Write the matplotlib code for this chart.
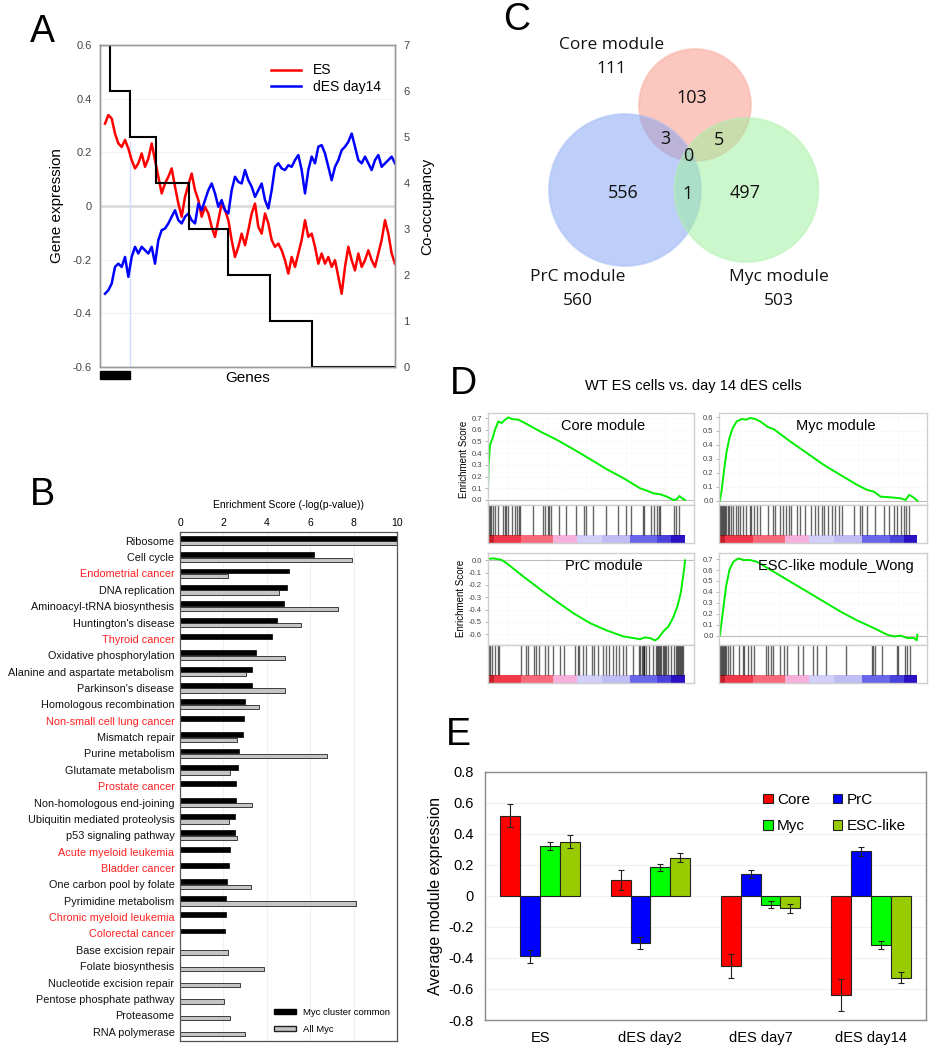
import numpy as np
import matplotlib
matplotlib.use("Agg")
import matplotlib.pyplot as plt
from matplotlib.patches import Circle, Rectangle, Patch
from matplotlib.transforms import blended_transform_factory

plt.rcParams['font.family'] = ['Liberation Sans', 'DejaVu Sans']

W, H = 931, 1050

# ---------------- panel A data ----------------
es_expr = [0.307, 0.339, 0.326, 0.27, 0.233, 0.22, 0.246, 0.214, 0.171, 0.14,
           0.159, 0.196, 0.146, 0.177, 0.233, 0.171, 0.109, 0.047, 0.084, 0.109,
           0.14, 0.072, 0.009, -0.04, 0.034, 0.078, 0.121, 0.059, 0.022, -0.04,
           -0.003, -0.028, -0.078, -0.115, -0.053, 0.009, -0.016, -0.053, -0.127, -0.19,
           -0.152, -0.103, -0.146, -0.09, -0.028, 0.009, -0.078, -0.103, -0.028, -0.065,
           -0.127, -0.152, -0.14, -0.165, -0.202, -0.252, -0.19, -0.227, -0.177, -0.127,
           -0.053, -0.115, -0.103, -0.152, -0.215, -0.177, -0.215, -0.19, -0.227, -0.202,
           -0.264, -0.327, -0.227, -0.152, -0.202, -0.24, -0.177, -0.227, -0.202, -0.165,
           -0.202, -0.227, -0.177, -0.127, -0.053, -0.103, -0.177, -0.215]
des14_expr = [-0.327, -0.314, -0.289, -0.227, -0.215, -0.227, -0.19, -0.264, -0.19, -0.152,
              -0.177, -0.152, -0.165, -0.177, -0.152, -0.215, -0.127, -0.09, -0.084, -0.065,
              -0.04, -0.016, -0.053, -0.065, -0.04, -0.028, -0.053, -0.065, 0.009, -0.016,
              0.022, 0.059, 0.084, 0.047, -0.003, 0.022, -0.016, -0.028, 0.059, 0.109,
              0.09, 0.084, 0.134, 0.096, 0.072, 0.034, 0.059, 0.084, 0.022, -0.009,
              0.059, 0.146, 0.159, 0.14, 0.134, 0.152, 0.146, 0.171, 0.19, 0.134,
              0.047, 0.134, 0.184, 0.159, 0.221, 0.227, 0.196, 0.146, 0.096, 0.146,
              0.171, 0.208, 0.221, 0.239, 0.27, 0.221, 0.171, 0.159, 0.184, 0.159,
              0.134, 0.171, 0.19, 0.146, 0.159, 0.171, 0.184, 0.159]
cooc_levels = [7, 6, 5, 4, 3, 2, 1, 0]
cooc_edges = [0, 0.034, 0.102, 0.19, 0.30, 0.433, 0.576, 0.718, 1.0]

# ---------------- panel B data ----------------
pathways = ["Ribosome", "Cell cycle", "Endometrial cancer", "DNA replication",
            "Aminoacyl-tRNA biosynthesis", "Huntington's disease", "Thyroid cancer",
            "Oxidative phosphorylation", "Alanine and aspartate metabolism",
            "Parkinson's disease", "Homologous recombination", "Non-small cell lung cancer",
            "Mismatch repair", "Purine metabolism", "Glutamate metabolism", "Prostate cancer",
            "Non-homologous end-joining", "Ubiquitin mediated proteolysis",
            "p53 signaling pathway", "Acute myeloid leukemia", "Bladder cancer",
            "One carbon pool by folate", "Pyrimidine metabolism", "Chronic myeloid leukemia",
            "Colorectal cancer", "Base excision repair", "Folate biosynthesis",
            "Nucleotide excision repair", "Pentose phosphate pathway", "Proteasome",
            "RNA polymerase"]
cancer_pathways = ["Endometrial cancer", "Thyroid cancer", "Non-small cell lung cancer",
                   "Prostate cancer", "Acute myeloid leukemia", "Bladder cancer",
                   "Chronic myeloid leukemia", "Colorectal cancer"]
myc_common = [10, 6.18, 5.0, 4.95, 4.77, 4.49, 4.23, 3.49, 3.34, 3.31, 3.0, 2.95, 2.89,
              2.72, 2.65, 2.6, 2.6, 2.55, 2.55, 2.29, 2.25, 2.15, 2.11, 2.11, 2.08,
              None, None, None, None, None, None]
all_myc = [10, 7.92, 2.23, 4.58, 7.26, 5.57, None, 4.82, 3.03, 4.82, 3.62, None, 2.62,
           6.77, 2.31, None, 3.31, 2.28, 2.63, None, None, 3.26, 8.11, None, None,
           2.2, 3.85, 2.77, 2.02, 2.32, 3.0]

# ---------------- panel C data ----------------
venn_sets = ["Core module", "PrC module", "Myc module"]
venn_totals = [111, 560, 503]
venn_regions = ["103", "556", "497", "3", "5", "1", "0"]

# ---------------- panel D data ----------------
core_x = [0, 0.005, 0.012, 0.025, 0.037, 0.054, 0.071, 0.084, 0.105, 0.122, 0.155, 0.189,
          0.265, 0.35, 0.434, 0.519, 0.603, 0.688, 0.772, 0.806, 0.84, 0.873, 0.907,
          0.941, 0.958, 0.971, 0.985, 1.0]
core_es = [0, 0.314, 0.471, 0.529, 0.6, 0.671, 0.657, 0.68, 0.706, 0.691, 0.686, 0.657,
           0.586, 0.514, 0.434, 0.349, 0.263, 0.186, 0.1, 0.08, 0.057, 0.049, 0.029,
           0.0, 0.006, 0.034, 0.014, 0]
core_hits = [0.005, 0.012, 0.018, 0.028, 0.039, 0.051, 0.079, 0.086, 0.093, 0.103, 0.123,
             0.14, 0.149, 0.16, 0.165, 0.228, 0.282, 0.292, 0.304, 0.312, 0.321, 0.363,
             0.397, 0.448, 0.49, 0.498, 0.532, 0.6, 0.659, 0.701, 0.726, 0.786, 0.794,
             0.828, 0.844, 0.857, 0.867, 0.873, 0.946, 0.955, 0.968]
myc_x = [0, 0.003, 0.012, 0.024, 0.037, 0.051, 0.068, 0.088, 0.113, 0.135, 0.155, 0.181,
         0.206, 0.248, 0.274, 0.358, 0.443, 0.527, 0.611, 0.696, 0.747, 0.78, 0.814,
         0.865, 0.916, 0.941, 0.958, 0.975, 1.0]
myc_es = [0, 0.0, 0.077, 0.22, 0.353, 0.449, 0.521, 0.569, 0.586, 0.581, 0.593, 0.586,
          0.569, 0.526, 0.514, 0.425, 0.341, 0.257, 0.185, 0.113, 0.077, 0.065, 0.029,
          0.024, 0.017, 0.005, 0.041, 0.029, 0.0]
myc_hits = [0.0, 0.005, 0.01, 0.015, 0.02, 0.025, 0.03, 0.035, 0.042, 0.051, 0.059, 0.068,
            0.085, 0.093, 0.107, 0.119, 0.136, 0.153, 0.161, 0.175, 0.192, 0.203, 0.246,
            0.271, 0.283, 0.305, 0.322, 0.339, 0.351, 0.364, 0.39, 0.407, 0.432, 0.463,
            0.483, 0.5, 0.52, 0.531, 0.551, 0.568, 0.585, 0.602, 0.619, 0.678, 0.712,
            0.72, 0.746, 0.788, 0.831, 0.856, 0.881, 0.898, 0.915, 0.932, 0.941, 0.958]
prc_x = [0, 0.029, 0.071, 0.096, 0.181, 0.265, 0.35, 0.434, 0.519, 0.603, 0.688, 0.772,
         0.797, 0.823, 0.848, 0.865, 0.89, 0.916, 0.941, 0.961, 0.978, 0.988, 0.997, 1.0]
prc_es = [0.011, 0.016, 0.003, -0.024, -0.132, -0.235, -0.335, -0.43, -0.511, -0.57,
          -0.619, -0.641, -0.627, -0.632, -0.651, -0.632, -0.578, -0.538, -0.462, -0.376,
          -0.268, -0.159, -0.051, 0.0]
prc_hits = [0.005, 0.012, 0.022, 0.039, 0.051, 0.059, 0.169, 0.194, 0.203, 0.236, 0.245,
            0.262, 0.292, 0.304, 0.329, 0.367, 0.389, 0.444, 0.456, 0.465, 0.481, 0.498,
            0.529, 0.541, 0.557, 0.583, 0.6, 0.617, 0.633, 0.65, 0.667, 0.684, 0.701,
            0.735, 0.769, 0.774, 0.78, 0.785, 0.79, 0.794, 0.802, 0.819, 0.836, 0.853,
            0.858, 0.863, 0.87, 0.875, 0.88, 0.887, 0.892, 0.897, 0.904, 0.912, 0.929,
            0.946, 0.954, 0.96, 0.966, 0.971, 0.976, 0.981, 0.987, 0.99]
esc_x = [0, 0.003, 0.017, 0.034, 0.051, 0.071, 0.096, 0.122, 0.155, 0.189, 0.274, 0.358,
         0.443, 0.527, 0.611, 0.696, 0.78, 0.848, 0.882, 0.916, 0.949, 0.983, 0.997, 1.0]
esc_es = [0, 0, 0.206, 0.448, 0.6, 0.676, 0.706, 0.691, 0.691, 0.676, 0.585, 0.494,
          0.403, 0.312, 0.221, 0.139, 0.07, 0.009, -0.006, 0, -0.021, -0.021, -0.042, 0.009]
esc_hits = [0.0, 0.005, 0.01, 0.015, 0.02, 0.025, 0.03, 0.035, 0.042, 0.056, 0.068, 0.101,
            0.118, 0.127, 0.144, 0.16, 0.174, 0.236, 0.245, 0.262, 0.27, 0.304, 0.329,
            0.343, 0.397, 0.422, 0.473, 0.495, 0.541, 0.642, 0.769, 0.777, 0.785, 0.819,
            0.895, 0.904, 0.937, 0.946, 0.963]
rank_edges = [0, 0.03, 0.17, 0.33, 0.455, 0.58, 0.72, 0.86, 0.93, 1.0]
rank_colors = ['#c4202c', '#f03848', '#f76a7a', '#f5b0dc', '#d2d0f8', '#c0bdf5',
               '#6a66ea', '#4a40da', '#2a12c4']

# ---------------- panel E data ----------------
stages = ["ES", "dES day2", "dES day7", "dES day14"]
modules = ["Core", "PrC", "Myc", "ESC-like"]
module_colors = ["#ff0000", "#0000ff", "#00ff00", "#99cc00"]
module_mean = {
    "Core": [0.516, 0.103, -0.452, -0.639],
    "PrC": [-0.39, -0.305, 0.14, 0.288],
    "Myc": [0.32, 0.183, -0.056, -0.316],
    "ESC-like": [0.35, 0.247, -0.08, -0.527],
}
module_err = {
    "Core": [0.075, 0.065, 0.08, 0.1],
    "PrC": [0.04, 0.04, 0.027, 0.03],
    "Myc": [0.025, 0.02, 0.022, 0.028],
    "ESC-like": [0.04, 0.03, 0.03, 0.035],
}

fig = plt.figure(figsize=(W / 100, H / 100), dpi=100)


def px_axes(x0, y0, x1, y1):
    return fig.add_axes([x0 / W, 1 - y1 / H, (x1 - x0) / W, (y1 - y0) / H])


def fmt(v):
    return "0" if abs(v) < 1e-9 else f"{v:.1f}"


# ---------------- A ----------------
axA = px_axes(100, 45, 395, 367)
axA.set_xlim(0, 1)
axA.set_ylim(-0.6, 0.6)
for gy in [0.4, 0.2, -0.2, -0.4]:
    axA.axhline(gy, color='#f2f2f2', lw=0.8, zorder=0)
axA.axhline(0, color='#dcdcdc', lw=2, zorder=0)
axA.plot([cooc_edges[2]] * 2, [-0.6, 0.24], color='#d4dcff', lw=1, zorder=1)
xa = np.linspace(0.017, 1.0, len(es_expr))
l1, = axA.plot(xa, es_expr, color='#ff0000', lw=1.8, label='ES')
l2, = axA.plot(xa, des14_expr, color='#0000ff', lw=1.8, label='dES day14')
axA.set_xticks([])
yt = [0.6, 0.4, 0.2, 0, -0.2, -0.4, -0.6]
axA.set_yticks(yt)
axA.set_yticklabels([fmt(v) for v in yt])
axA.tick_params(axis='y', length=0, pad=6, labelsize=8, labelcolor='#444444')
axA.set_ylabel("Gene expression", fontsize=11, labelpad=6)
axA.set_xlabel("Genes", fontsize=11, labelpad=3)
axA.legend(handles=[l1, l2], loc='upper right', bbox_to_anchor=(0.97, 0.96),
           frameon=False, fontsize=10, handlelength=2.2, borderaxespad=0, labelspacing=0.2)
axA2 = axA.twinx()
axA2.set_ylim(0, 7)
axA2.stairs(cooc_levels, cooc_edges, color='k', lw=1.5, baseline=None)
axA2.set_yticks(range(8))
axA2.tick_params(axis='y', length=0, pad=6, labelsize=8, labelcolor='#444444')
axA2.set_ylabel("Co-occupancy", fontsize=11, labelpad=8)
for ax in (axA, axA2):
    for s in ax.spines.values():
        s.set_color('#999999')
        s.set_linewidth(1)
trA = blended_transform_factory(axA.transData, axA.transAxes)
axA.add_patch(Rectangle((0, -0.038), cooc_edges[2], 0.025, transform=trA,
                        clip_on=False, color='k'))

# ---------------- B ----------------
axB = px_axes(180, 531.7, 397, 1040.7)
n = len(pathways)
yB = np.arange(n)
for gx in [2, 4, 6, 8]:
    axB.axvline(gx, color='#f0f0f0', lw=0.8, zorder=0)
mc = [(i, v) for i, v in enumerate(myc_common) if v is not None]
am = [(i, v) for i, v in enumerate(all_myc) if v is not None]
axB.barh([i - 0.15 for i, _ in mc], [v for _, v in mc], height=0.3,
         color='k', edgecolor='k', lw=0.5)
axB.barh([i + 0.16 for i, _ in am], [v for _, v in am], height=0.26,
         color='#c4c4c4', edgecolor='#222222', lw=0.6)
axB.set_xlim(0, 10)
axB.set_ylim(n - 0.45, -0.55)
axB.xaxis.tick_top()
axB.xaxis.set_label_position('top')
axB.set_xticks([0, 2, 4, 6, 8, 10])
axB.tick_params(axis='x', length=0, pad=3, labelsize=7.5)
axB.set_xlabel("Enrichment Score (-log(p-value))", fontsize=7.5, labelpad=7)
axB.set_yticks(yB)
axB.set_yticklabels(pathways, fontsize=7.8)
axB.tick_params(axis='y', length=0, pad=4)
for lab, name in zip(axB.get_yticklabels(), pathways):
    lab.set_color('#ff2020' if name in cancer_pathways else '#111111')
for s in axB.spines.values():
    s.set_color('#555555')
    s.set_linewidth(0.9)
axB.legend(handles=[Patch(facecolor='k', edgecolor='k', label='Myc cluster common'),
                    Patch(facecolor='#c4c4c4', edgecolor='#222222', label='All Myc')],
           loc='lower right', bbox_to_anchor=(1.0, 0.0), frameon=False, fontsize=6.8,
           handlelength=2.3, handleheight=0.45, labelspacing=0.9, borderaxespad=0.3)

# ---------------- C ----------------
axC = px_axes(500, 0, 931, 330)
axC.set_xlim(500, 931)
axC.set_ylim(330, 0)
axC.axis('off')
circ_specs = [((695, 105), 56, '#f99080', '#f7b0a4'),
              ((625, 190), 76, '#7c9ef2', '#a8bff6'),
              ((746.5, 190), 72, '#9bf09b', '#b4f2b4')]
for (cxy, r, fc, ec) in circ_specs:
    axC.add_patch(Circle(cxy, r, facecolor=fc, edgecolor=ec, alpha=0.5, lw=1.5))
vfont = dict(family=['Open Sans', 'DejaVu Sans'], ha='center', va='center', color='#111111')
set_pos = [(611.5, 45, 69), (578, 277, 301), (779, 277, 301)]
for name, tot, (sx, sy1, sy2) in zip(venn_sets, venn_totals, set_pos):
    axC.text(sx, sy1, name, fontsize=12.5, **vfont)
    axC.text(sx, sy2, str(tot), fontsize=12.5, **vfont)
region_pos = [(691.5, 98), (623, 193), (745.5, 193), (665.5, 139), (719, 140),
              (688, 194), (688.5, 156)]
for txt, (rx, ry) in zip(venn_regions, region_pos):
    axC.text(rx, ry, txt, fontsize=13, **vfont)

# ---------------- D ----------------
fig.text(693 / W, 1 - 386 / H, "WT ES cells vs. day 14 dES cells", fontsize=10.5,
         ha='center', va='center')


def gsea_panel(x0, x1, y0, label, xs, es, ylim, yticks, hits, ylabel):
    ax = px_axes(x0, y0, x1, y0 + 92)
    axb = px_axes(x0, y0 + 92, x1, y0 + 130)
    for a in (ax, axb):
        a.set_xlim(0, 1.047)
        for s in a.spines.values():
            s.set_color('#cfcfcf')
            s.set_linewidth(1)
    for gx in np.arange(0.1, 1.0, 0.2):
        ax.axvline(gx, color='#eeeeee', lw=0.6, ls=':', zorder=0)
    for gy in yticks:
        ax.axhline(gy, color='#eeeeee', lw=0.6, ls=':', zorder=0)
    ax.axhline(0, color='#bdbdbd', lw=0.8, zorder=1)
    ax.plot(xs, es, color='#00ee00', lw=1.4, zorder=2)
    ax.set_ylim(*ylim)
    ax.set_xticks([])
    ax.set_yticks(yticks)
    ax.set_yticklabels([f"{v:.1f}" for v in yticks])
    ax.tick_params(axis='y', length=2, width=0.5, color='#999999', pad=2,
                   labelsize=5.5, labelcolor='#444444')
    ax.text(0.56, 0.86, label, transform=ax.transAxes, fontsize=10.5, ha='center', va='center')
    if ylabel:
        ax.set_ylabel("Enrichment Score", fontsize=7, labelpad=2)
    axb.set_ylim(0, 1)
    axb.vlines(hits, 0.2, 1.0, color='k', lw=1.0, alpha=0.6)
    axb.barh(0.1, np.diff(rank_edges), left=rank_edges[:-1], height=0.2,
             color=rank_colors, lw=0)
    axb.set_xticks([])
    axb.set_yticks([])


gsea_panel(487.7, 694.3, 413, "Core module", core_x, core_es, (-0.043, 0.743),
           [0.0, 0.1, 0.2, 0.3, 0.4, 0.5, 0.6, 0.7], core_hits, True)
gsea_panel(719.3, 926.7, 413, "Myc module", myc_x, myc_es, (-0.031, 0.629),
           [0.0, 0.1, 0.2, 0.3, 0.4, 0.5, 0.6], myc_hits, False)
gsea_panel(487.7, 694.3, 552.7, "PrC module", prc_x, prc_es, (-0.686, 0.062),
           [0.0, -0.1, -0.2, -0.3, -0.4, -0.5, -0.6], prc_hits, True)
gsea_panel(719.3, 926.7, 552.7, "ESC-like module_Wong", esc_x, esc_es, (-0.082, 0.758),
           [0.0, 0.1, 0.2, 0.3, 0.4, 0.5, 0.6, 0.7], esc_hits, False)

# ---------------- E ----------------
axE = px_axes(485, 771.7, 926, 1020)
xE = np.arange(len(stages))
bw = 0.18
for gy in [0.6, 0.4, 0.2, 0, -0.2, -0.4, -0.6]:
    axE.axhline(gy, color='#f0f0f0', lw=0.8, zorder=0)
bars = {}
for k, (m, c) in enumerate(zip(modules, module_colors)):
    bars[m] = axE.bar(xE + (k - 1.5) * bw, module_mean[m], bw, yerr=module_err[m], color=c,
                      edgecolor='#222222', lw=0.8, label=m, zorder=2,
                      error_kw=dict(ecolor='#222222', elinewidth=0.8, capsize=2.5, capthick=0.8))
axE.set_xlim(-0.5, 3.5)
axE.set_ylim(-0.8, 0.8)
ytE = [0.8, 0.6, 0.4, 0.2, 0, -0.2, -0.4, -0.6, -0.8]
axE.set_yticks(ytE)
axE.set_yticklabels([fmt(v) for v in ytE])
axE.set_xticks(xE)
axE.set_xticklabels(stages)
axE.tick_params(axis='both', length=0, labelsize=10.5)
axE.tick_params(axis='y', pad=8)
axE.tick_params(axis='x', pad=8)
axE.set_ylabel("Average module expression", fontsize=11.5, labelpad=4)
for s in axE.spines.values():
    s.set_color('#888888')
    s.set_linewidth(1)
leg_order = ["Core", "Myc", "PrC", "ESC-like"]
axE.legend([bars[m] for m in leg_order], leg_order, loc='upper left',
           bbox_to_anchor=(0.6, 0.97), ncol=2, frameon=False,
           fontsize=11, handlelength=0.6, handleheight=0.6, handletextpad=0.3,
           columnspacing=1.5, labelspacing=0.8)

# panel letters
for letter, (lx, ly) in {"A": (42, 32), "B": (42, 495), "C": (517, 20),
                         "D": (463, 384), "E": (458, 735)}.items():
    fig.text(lx / W, 1 - ly / H, letter, fontsize=27, ha='center', va='center')

fig.savefig("out.png", dpi=100)
